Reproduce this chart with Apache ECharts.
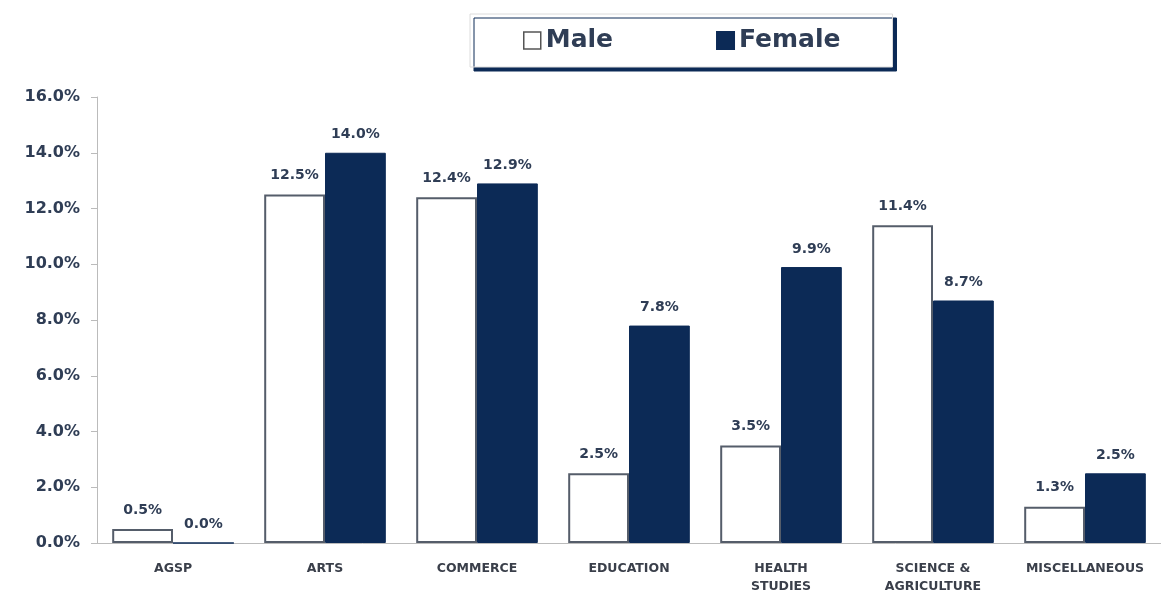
<!DOCTYPE html>
<html><head><meta charset="utf-8">
<script src="https://cdn.jsdelivr.net/npm/echarts@6/dist/echarts.min.js"></script>
<style>html,body{margin:0;padding:0;background:#fff;overflow:hidden}#c{width:1161px;height:596px}</style>
</head><body><div id="c"></div>
<script>
const categories = ['AGSP', 'ARTS', 'COMMERCE', 'EDUCATION', 'HEALTH\nSTUDIES', 'SCIENCE &\nAGRICULTURE', 'MISCELLANEOUS'];
const maleValues = [0.5, 12.5, 12.4, 2.5, 3.5, 11.4, 1.3];
const femaleValues = [0.0, 14.0, 12.9, 7.8, 9.9, 8.7, 2.5];
const yTicks = [0, 2, 4, 6, 8, 10, 12, 14, 16];

const navy = '#0c2a56';
const textColor = '#2f3d55';
const font = 'DejaVu Sans';
const chart = echarts.init(document.getElementById('c'));
chart.setOption({
  animation: false,
  backgroundColor: '#fff',
  grid: { left: 97, right: 0, top: 97, height: 455, containLabel: false },
  legend: {
    top: 14, left: 470,
    padding: [14, 52, 14, 53],
    itemGap: 103,
    itemWidth: 17, itemHeight: 17,
    backgroundColor: '#fff',
    borderColor: '#dcdcdc', borderWidth: 1,
    shadowColor: navy, shadowBlur: 0, shadowOffsetX: 4, shadowOffsetY: 4,
    textStyle: { fontFamily: font, fontWeight: 'bold', fontSize: 25, color: textColor, padding: [4, 0, 0, 0] },
    data: [
      { name: 'Male', icon: 'rect', itemStyle: { color: '#fff', borderColor: '#555', borderWidth: 1.5 } },
      { name: 'Female', icon: 'rect', itemStyle: { color: navy } }
    ]
  },
  xAxis: {
    type: 'category', data: categories,
    axisLine: { lineStyle: { color: '#bbb', width: 1 } },
    axisTick: { show: false },
    axisLabel: { interval: 0, hideOverlap: false, fontFamily: font, fontWeight: 'bold', fontSize: 12.5, color: '#3a3f4a', margin: 17, lineHeight: 18 }
  },
  yAxis: {
    type: 'value', min: 0, max: 16, interval: 2,
    axisLine: { show: true, lineStyle: { color: '#bbb' } },
    axisTick: { show: true, inside: false, length: 6, lineStyle: { color: '#bbb' } },
    splitLine: { show: false },
    axisLabel: { fontFamily: font, fontWeight: 'bold', fontSize: 16, color: textColor, margin: 17,
      formatter: v => yTicks.includes(v) ? v.toFixed(1) + '%' : '' }
  },
  series: [
    {
      name: 'Male', type: 'bar', data: maleValues,
      barWidth: '40%', barGap: '0%', barCategoryGap: '20%',
      itemStyle: { color: '#fff', borderColor: '#555d6a', borderWidth: 2 },
      label: { show: true, position: 'top', distance: 12, formatter: p => p.value.toFixed(1) + '%',
        fontFamily: font, fontWeight: 'bold', fontSize: 14, color: textColor }
    },
    {
      name: 'Female', type: 'bar', data: femaleValues,
      barWidth: '40%',
      itemStyle: { color: navy, borderColor: navy, borderWidth: 1 },
      label: { show: true, position: 'top', distance: 11, formatter: p => p.value.toFixed(1) + '%',
        fontFamily: font, fontWeight: 'bold', fontSize: 14, color: textColor }
    }
  ]
});
</script></body></html>
